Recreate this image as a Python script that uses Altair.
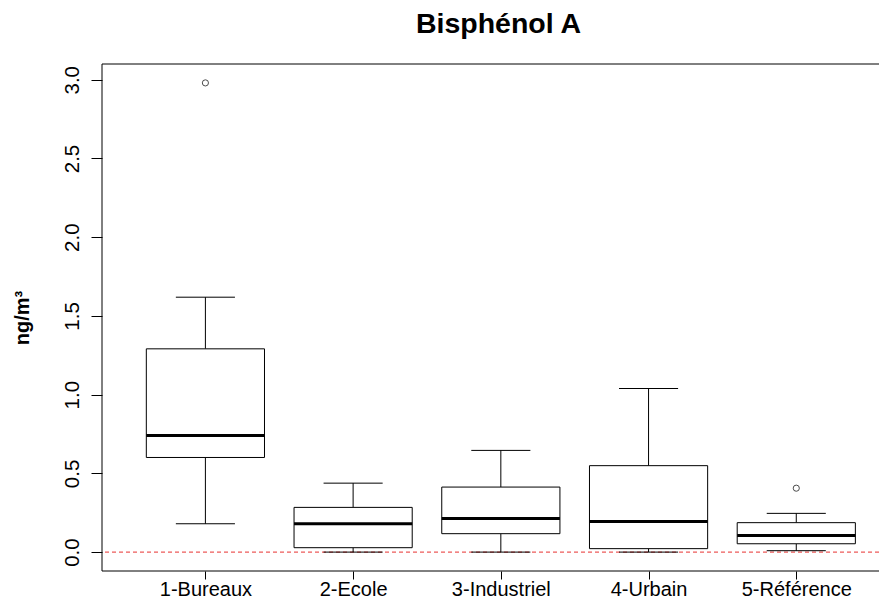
import json
import altair as alt
import pandas as pd

# ---- data ----
groups = ["1-Bureaux", "2-Ecole", "3-Industriel", "4-Urbain", "5-Référence"]
positions = [1, 2, 3, 4, 5]
whisker_low = [0.180, 0.000, 0.000, 0.000, 0.009]
q1 = [0.601, 0.028, 0.117, 0.022, 0.053]
median = [0.741, 0.180, 0.214, 0.195, 0.106]
q3 = [1.291, 0.284, 0.413, 0.549, 0.187]
whisker_high = [1.619, 0.438, 0.646, 1.039, 0.246]
outlier_pos = [1, 5]
outlier_value = [2.98, 0.406]
reference_line = [0.0]
y_ticks = [0.0, 0.5, 1.0, 1.5, 2.0, 2.5, 3.0]

df = pd.DataFrame(dict(group=groups, pos=positions, lo=whisker_low, q1=q1,
                       med=median, q3=q3, hi=whisker_high))
out_df = pd.DataFrame(dict(pos=outlier_pos, value=outlier_value))
ref_df = pd.DataFrame(dict(v=reference_line))
frame_df = pd.DataFrame(dict(k=[0]))

F = "Liberation Sans"
W, H = 777, 507

xs = alt.Scale(domain=[0.3, 5.56], nice=False, zero=False)
ys = alt.Scale(domain=[-0.12, 3.1], nice=False, zero=False)

label_expr = json.dumps(groups) + "[datum.value - 1]"
xaxis = alt.Axis(values=positions, labelExpr=label_expr, tickSize=8, domain=False,
                 grid=False, labelFontSize=20, labelFont=F, labelColor="black",
                 tickColor="black", title=None, labelPadding=0)
yaxis = alt.Axis(values=y_ticks, format=".1f", labelAngle=270, labelAlign="center",
                 labelBaseline="bottom", tickSize=11, domain=False, grid=False,
                 labelFontSize=20.5, labelFont=F, labelColor="black", tickColor="black",
                 title="ng/m³", titleFont=F, titleFontSize=20, titleFontWeight="bold",
                 titleColor="black", titleAngle=270, titlePadding=30, labelPadding=9)

base = alt.Chart(df).transform_calculate(
    bl="datum.pos - 0.4", br="datum.pos + 0.4",
    cl="datum.pos - 0.2", cr="datum.pos + 0.2")

X = lambda f: alt.X(f"{f}:Q", scale=xs, axis=xaxis)
Y = lambda f: alt.Y(f"{f}:Q", scale=ys, axis=yaxis)

whisk_up = base.mark_rule(color="black", strokeWidth=1).encode(x=X("pos"), y=Y("q3"), y2="hi:Q")
whisk_dn = base.mark_rule(color="black", strokeWidth=1).encode(x=X("pos"), y=Y("lo"), y2="q1:Q")
cap_up = base.mark_rule(color="black", strokeWidth=1).encode(x=X("cl"), x2="cr:Q", y=Y("hi"))
cap_dn = base.mark_rule(color="black", strokeWidth=1).encode(x=X("cl"), x2="cr:Q", y=Y("lo"))
boxes = base.mark_rect(fill="white", stroke="black", strokeWidth=1).encode(
    x=X("bl"), x2="br:Q", y=Y("q1"), y2="q3:Q")
medians = base.mark_rule(color="black", strokeWidth=3).encode(x=X("bl"), x2="br:Q", y=Y("med"))
outliers = alt.Chart(out_df).mark_point(shape="circle", filled=False, size=38,
                                        color="black", strokeWidth=1).encode(
    x=X("pos"), y=Y("value"))
ref = alt.Chart(ref_df).mark_rule(color="#e8312f", strokeWidth=1, strokeDash=[4, 3]).encode(y=Y("v"))

frame_top = alt.Chart(frame_df).mark_rule(color="black", strokeWidth=1).encode(
    x=alt.value(0), x2=alt.value(W), y=alt.value(0))
frame_bottom = alt.Chart(frame_df).mark_rule(color="black", strokeWidth=1).encode(
    x=alt.value(0), x2=alt.value(W), y=alt.value(H))
frame_left = alt.Chart(frame_df).mark_rule(color="black", strokeWidth=1).encode(
    x=alt.value(0), y=alt.value(0), y2=alt.value(H))

chart = alt.layer(
    ref, whisk_up, whisk_dn, cap_up, cap_dn, boxes, medians, outliers,
    frame_top, frame_bottom, frame_left
).properties(
    width=W, height=H,
    title=alt.TitleParams("Bisphénol A", font=F, fontSize=28.5, fontWeight="bold",
                          color="black", anchor="middle", offset=25, dx=8),
    padding={"left": 94, "top": 56, "right": 0, "bottom": 29},
    autosize=alt.AutoSizeParams(type="none"),
).configure_view(stroke=None)

chart.save("out.html", embed_options={"renderer": "svg", "actions": False})
